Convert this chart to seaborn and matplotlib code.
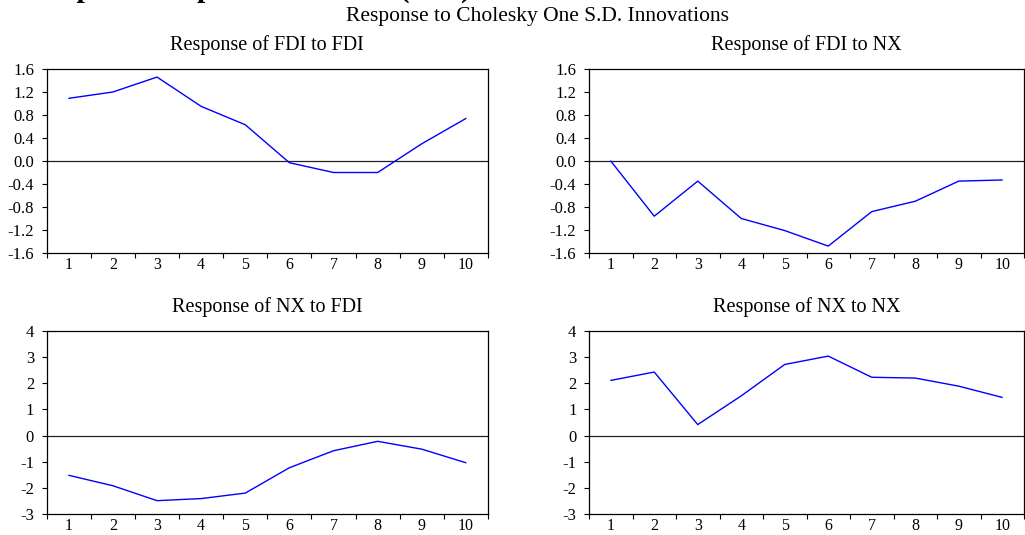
import matplotlib
matplotlib.use("Agg")
import matplotlib.pyplot as plt
import seaborn as sns
import numpy as np
import pandas as pd
from matplotlib.ticker import FixedLocator, FuncFormatter

# ---- data ----
periods = [1, 2, 3, 4, 5, 6, 7, 8, 9, 10]
fdi_to_fdi = [1.09, 1.20, 1.46, 0.95, 0.63, -0.03, -0.20, -0.20, 0.30, 0.74]
fdi_to_nx = [0.00, -0.96, -0.35, -1.00, -1.21, -1.48, -0.88, -0.70, -0.35, -0.33]
nx_to_fdi = [-1.52, -1.92, -2.49, -2.41, -2.20, -1.23, -0.58, -0.22, -0.52, -1.04]
nx_to_nx = [2.11, 2.43, 0.42, 1.52, 2.72, 3.04, 2.23, 2.20, 1.89, 1.46]

titles = ["Response of FDI to FDI", "Response of FDI to NX",
          "Response of NX to FDI", "Response of NX to NX"]
top_yticks = [-1.6, -1.2, -0.8, -0.4, 0.0, 0.4, 0.8, 1.2, 1.6]
bottom_yticks = [-3, -2, -1, 0, 1, 2, 3, 4]
main_title = "Response to Cholesky One S.D. Innovations"
header = "Impulse Response Function (IRF)"

sns.set_theme(style="white")
plt.rcParams["font.family"] = ["Liberation Serif", "DejaVu Serif"]
plt.rcParams["axes.unicode_minus"] = False

W, H = 1025, 535
fig = plt.figure(figsize=(W / 100, H / 100), dpi=100)


def frac_rect(left, top, right, bottom):
    return [left / W, 1 - bottom / H, (right - left) / W, (bottom - top) / H]


rects = [
    frac_rect(46.7, 69, 488, 253),
    frac_rect(589, 69, 1024, 253),
    frac_rect(46.7, 331, 488, 514),
    frac_rect(589, 331, 1024, 514),
]
series = [fdi_to_fdi, fdi_to_nx, nx_to_fdi, nx_to_nx]

for i, (rect, vals, title) in enumerate(zip(rects, series, titles)):
    ax = fig.add_axes(rect)
    df = pd.DataFrame({"period": periods, "value": vals})
    ax.axhline(0, color="#222222", lw=0.9, zorder=1)
    sns.lineplot(data=df, x="period", y="value", ax=ax, color="#0000ff",
                 lw=1.0, zorder=3)
    ax.set_xlim(0.5, 10.5)
    if i < 2:
        ax.set_ylim(-1.6, 1.6)
        ax.set_yticks(top_yticks)
        ax.yaxis.set_major_formatter(FuncFormatter(lambda v, p: f"{v:.1f}"))
    else:
        ax.set_ylim(-3, 4)
        ax.set_yticks(bottom_yticks)
        ax.yaxis.set_major_formatter(FuncFormatter(lambda v, p: f"{v:.0f}"))
    ax.set_xticks(periods)
    ax.set_xticklabels([str(p) for p in periods])
    ax.xaxis.set_minor_locator(FixedLocator(np.arange(0.5, 11, 1.0)))
    ax.tick_params(axis="x", which="major", length=0, pad=3.0,
                   labelsize=11.5, colors="black")
    ax.tick_params(axis="x", which="minor", length=3.6, width=0.8,
                   direction="out", color="black", bottom=True)
    ax.tick_params(axis="y", which="major", length=3.6, width=0.8,
                   direction="out", pad=5.5, labelsize=12, colors="black",
                   left=True)
    ax.set_xlabel("")
    ax.set_ylabel("")
    for s in ax.spines.values():
        s.set_visible(True)
        s.set_color("black")
        s.set_linewidth(0.9)
    ax.set_title(title, fontsize=14.5, pad=13.5, color="black")

fig.text(537 / W, 1 - 21.5 / H, main_title, ha="center", va="baseline",
         fontsize=15.5, color="black")
fig.text(40 / W, 1 + 3.5 / H, header, ha="left", va="baseline",
         fontsize=21.5, fontweight="bold", color="black")

fig.savefig("out.png", dpi=100, facecolor="white")
